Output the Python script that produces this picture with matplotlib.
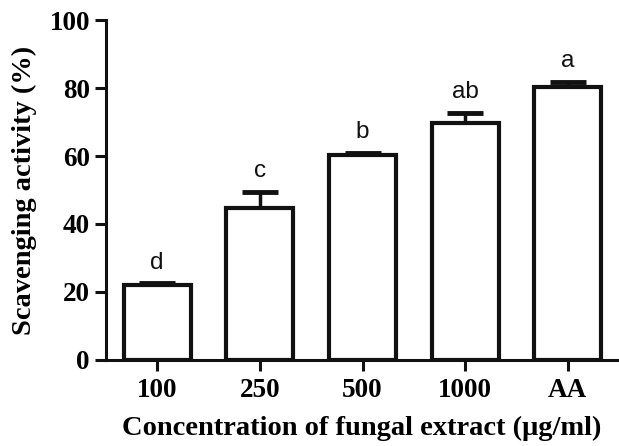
import matplotlib.pyplot as plt
import numpy as np

# Data
groups = ['100', '250', '500', '1000', 'AA']
activity = [22.0, 44.7, 60.3, 69.8, 80.2]
sd = [0.6, 4.7, 0.7, 3.0, 1.7]
letters = ['d', 'c', 'b', 'ab', 'a']

plt.rcParams['font.family'] = ['Liberation Serif', 'DejaVu Serif']

fig = plt.figure(figsize=(6.19, 4.46), dpi=100)
ax = fig.add_axes([0.171, 0.193, 0.826, 0.762])

x = np.arange(len(groups))
ax.bar(x, activity, width=0.65, color='white', edgecolor='#111111', linewidth=3, zorder=3)
ax.errorbar(x, activity, yerr=[np.zeros(len(sd)), sd], fmt='none', ecolor='#111111',
            elinewidth=2.5, capsize=13, capthick=3.5, zorder=2)

# significance letters above the error bars
for xi, m, s, lab in zip(x, activity, sd, letters):
    ax.annotate(lab, (xi, m + s), xytext=(0, 10.5), textcoords='offset points',
                ha='center', va='baseline', fontsize=17.5, family='Liberation Sans', color='#111111')

ax.set_xlim(-0.5, 4.48)
ax.set_ylim(0, 100)
ax.set_yticks([0, 20, 40, 60, 80, 100])
ax.set_xticks(x)
ax.set_xticklabels(groups)

for side in ['top', 'right']:
    ax.spines[side].set_visible(False)
for side in ['left', 'bottom']:
    ax.spines[side].set_linewidth(2.2)
    ax.spines[side].set_color('#111111')

ax.tick_params(axis='both', length=8, width=2.2, color='#111111', labelsize=19.5)
ax.tick_params(axis='x', pad=5)
ax.tick_params(axis='y', pad=3.5)
for t in ax.get_xticklabels() + ax.get_yticklabels():
    t.set_fontweight('bold')

ax.set_xlabel('Concentration of fungal extract (μg/ml)', fontsize=20.5, fontweight='bold', labelpad=9)
ax.set_ylabel('Scavenging activity (%)', fontsize=20.5, fontweight='bold', labelpad=9)

fig.savefig('out.png', dpi=100)
